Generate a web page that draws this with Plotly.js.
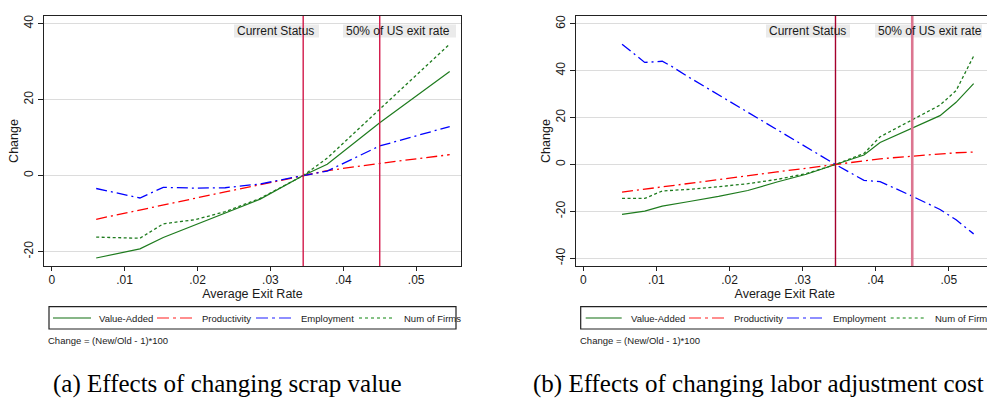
<!DOCTYPE html>
<html>
<head>
<meta charset="utf-8">
<script src="https://cdn.plot.ly/plotly-3.0.1.min.js"></script>
<style>
html,body{margin:0;padding:0;overflow:hidden;background:#fff;width:987px;height:399px;}
#chart{width:1000px;height:399px;}
</style>
</head>
<body>
<div id="chart"></div>
<script>
// ---------- DATA ----------
var seriesNames = ["Value-Added", "Productivity", "Employment", "Num of Firms"];

// Panel (a): changing scrap value
var xA = [0.0061, 0.0121, 0.0153, 0.0197, 0.0238, 0.0286, 0.0345, 0.0378, 0.0450, 0.0546];
var valueAddedA   = [-21.7, -19.3, -16.3, -13.0, -9.9, -6.2, 0.0, 3.0, 13.9, 27.4];
var productivityA = [-11.5, -9.0, -7.7, -5.9, -4.3, -2.4, 0.0, 1.3, 3.2, 5.5];
var employmentA   = [-3.4, -5.9, -3.1, -3.3, -3.2, -2.2, 0.0, 1.2, 7.8, 12.9];
var numFirmsA     = [-16.2, -16.5, -12.7, -11.6, -9.5, -6.0, 0.0, 4.6, 17.5, 34.6];

// Panel (b): changing labor adjustment cost
var xB = [0.0053, 0.0084, 0.0108, 0.0121, 0.0145, 0.0185, 0.0225, 0.0265, 0.0305, 0.0345, 0.0384, 0.0406, 0.0449, 0.0488, 0.0510, 0.0534];
var valueAddedB   = [-21.3, -19.9, -17.8, -17.2, -15.8, -13.6, -11.1, -7.5, -4.2, 0.0, 4.0, 9.4, 15.4, 20.8, 26.5, 34.5];
var productivityB = [-11.8, -10.5, -9.5, -9.0, -8.0, -6.5, -4.8, -3.2, -1.6, 0.0, 1.7, 2.4, 3.5, 4.5, 5.0, 5.3];
var employmentB   = [51.3, 43.5, 44.0, 41.8, 37.1, 29.7, 22.3, 14.9, 7.4, 0.0, -6.8, -7.3, -13.4, -19.2, -23.6, -29.6];
var numFirmsB     = [-14.5, -14.5, -11.3, -11.1, -10.6, -9.5, -8.2, -6.4, -3.9, 0.0, 4.7, 11.8, 18.9, 25.3, 31.5, 46.2];

var refLineX = [0.0345, 0.045];
var refLabels = ["Current Status", "50% of US exit rate"];
var xTickVals = [0, 0.01, 0.02, 0.03, 0.04, 0.05];
var xTickText = ["0", ".01", ".02", ".03", ".04", ".05"];
var yTickValsA = [-20, 0, 20, 40];
var yTickValsB = [-40, -20, 0, 20, 40, 60];
var captions = ["(a) Effects of changing scrap value", "(b) Effects of changing labor adjustment cost"];
var noteText = "Change = (New/Old - 1)*100";
var axisTitleX = "Average Exit Rate";
var axisTitleY = "Change";

// ---------- STYLE ----------
var W = 1000, H = 399;
function px(x){ return x / W; }
function py(y){ return (H - y) / H; }
var FONT = "Liberation Sans, Arial, Helvetica, sans-serif";
var GREEN = "#1e7b1e", RED = "#ff0000", BLUE = "#0000ff";
var styles = [
  {color: GREEN, dash: "solid", width: 1.2},
  {color: RED, dash: "11px,4px,2px,4px", width: 1.3},
  {color: BLUE, dash: "11px,4px,2px,4px", width: 1.3},
  {color: GREEN, dash: "3px,2.5px", width: 1.3}
];
var legendStyles = [
  {color: "#5f9e5f", dash: "solid"},
  {color: "#ff6a6a", dash: "12px,4px,3px,4px"},
  {color: "#6a6aff", dash: "12px,4px,3px,4px"},
  {color: "#5fae5f", dash: "3px,3px"}
];

var panelA = [valueAddedA, productivityA, employmentA, numFirmsA];
var panelB = [valueAddedB, productivityB, employmentB, numFirmsB];

var traces = [];
panelA.forEach(function(ys, i){
  traces.push({x: xA, y: ys, type: "scatter", mode: "lines", name: seriesNames[i],
    xaxis: "x", yaxis: "y", showlegend: false, hoverinfo: "skip",
    line: {color: styles[i].color, dash: styles[i].dash, width: styles[i].width}});
});
panelB.forEach(function(ys, i){
  traces.push({x: xB, y: ys, type: "scatter", mode: "lines", name: seriesNames[i],
    xaxis: "x2", yaxis: "y2", showlegend: false, hoverinfo: "skip",
    line: {color: styles[i].color, dash: styles[i].dash, width: styles[i].width}});
});

function xaxisDef(domain, range){
  return {domain: domain, range: range, tickvals: xTickVals, ticktext: xTickText,
    showgrid: false, zeroline: false, showline: true, mirror: true, linecolor: "#222", linewidth: 1.4,
    ticks: "outside", ticklen: 4, tickwidth: 1.2, tickcolor: "#222", ticklabelstandoff: -2,
    tickfont: {family: FONT, size: 12, color: "#1a1a1a"},
    title: {text: axisTitleX, font: {family: FONT, size: 12.5, color: "#1a1a1a"}, standoff: 0},
    fixedrange: true};
}
function yaxisDef(domain, range, tv, anchor){
  return {domain: domain, range: range, tickvals: tv, ticktext: tv.map(String), anchor: anchor,
    showgrid: true, gridcolor: "#dcdcdc", gridwidth: 1.3, zeroline: false,
    showline: true, mirror: true, linecolor: "#222", linewidth: 1.4,
    ticks: "outside", ticklen: 5, tickwidth: 1.2, tickcolor: "#222", tickangle: -90,
    tickfont: {family: FONT, size: 12, color: "#1a1a1a"},
    title: {text: axisTitleY, font: {family: FONT, size: 12.5, color: "#1a1a1a"}, standoff: 0},
    fixedrange: true};
}

var yDom = [py(266), py(16)];
var layout = {
  width: W, height: H,
  margin: {l: 0, r: 0, t: 0, b: 0},
  paper_bgcolor: "#ffffff", plot_bgcolor: "rgba(0,0,0,0)",
  showlegend: false,
  xaxis: xaxisDef([px(44), px(461)], [-0.00106, 0.05615]),
  yaxis: yaxisDef(yDom, [-23.8, 42.0], yTickValsA, "x"),
  xaxis2: Object.assign(xaxisDef([px(576), px(993.6)], [-0.0010, 0.05613]), {anchor: "y2"}),
  yaxis2: yaxisDef(yDom, [-43.3, 63.3], yTickValsB, "x2"),
  shapes: [], annotations: []
};
layout.xaxis.anchor = "y";

// Reference label boxes (gray background), pixel positions
var boxSpecs = [
  {x0: 234, x1: 319, textX: 234.5, label: 0},
  {x0: 343, x1: 456, textX: 344, label: 1},
  {x0: 766, x1: 850, textX: 766.5, label: 0},
  {x0: 875, x1: 982, textX: 875.5, label: 1}
];
boxSpecs.forEach(function(b){
  layout.shapes.push({type: "rect", xref: "paper", yref: "paper", layer: "below",
    x0: px(b.x0), x1: px(b.x1), y0: py(37.5), y1: py(24.5),
    fillcolor: "#ebebeb", line: {width: 0}});
  layout.annotations.push({xref: "paper", yref: "paper", x: px(b.textX), y: py(31),
    xanchor: "left", yanchor: "middle", showarrow: false, text: refLabels[b.label],
    font: {family: FONT, size: 12, color: "#1a1a1a"}});
});

// Reference vertical lines
var refColorsA = ["#d2194a", "#d2194a"];
var refColorsB = ["#a5002c", "#dc7590"];
var refWidthsB = [1.4, 2.6];
refLineX.forEach(function(v, i){
  layout.shapes.push({type: "line", xref: "x", yref: "y domain", x0: v, x1: v, y0: 0, y1: 1,
    layer: "above", line: {color: refColorsA[i], width: 1.4}});
  layout.shapes.push({type: "line", xref: "x2", yref: "y2 domain", x0: v, x1: v, y0: 0, y1: 1,
    layer: "above", line: {color: refColorsB[i], width: refWidthsB[i]}});
});

// Legends (Stata style) for both panels
var legendPanels = [
  {box: [49, 456], samples: [[53, 91], [157, 193], [256, 293], [359, 394]], texts: [97, 200, 299, 402], note: 45.7, cap: 50.7},
  {box: [580.7, 987.7], samples: [[585.7, 621.7], [689, 725.7], [787, 825], [890.7, 926.7]], texts: [628.5, 731.7, 831, 933], note: 577.7, cap: 530.7}
];
legendPanels.forEach(function(lp, pi){
  layout.shapes.push({type: "rect", xref: "paper", yref: "paper", layer: "above",
    x0: px(lp.box[0]), x1: px(lp.box[1]), y0: py(329), y1: py(306.7),
    fillcolor: "rgba(0,0,0,0)", line: {color: "#222", width: 1.2}});
  seriesNames.forEach(function(n, i){
    layout.shapes.push({type: "line", xref: "paper", yref: "paper", layer: "above",
      x0: px(lp.samples[i][0]), x1: px(lp.samples[i][1]), y0: py(318), y1: py(318),
      line: {color: legendStyles[i].color, dash: legendStyles[i].dash, width: 1.6}});
    layout.annotations.push({xref: "paper", yref: "paper", x: px(lp.texts[i]), y: py(318),
      xanchor: "left", yanchor: "middle", showarrow: false, text: n,
      font: {family: FONT, size: 9.5, color: "#1a1a1a"}});
  });
  layout.annotations.push({xref: "paper", yref: "paper", x: px(lp.note), y: py(340.7),
    xanchor: "left", yanchor: "middle", showarrow: false, text: noteText,
    font: {family: FONT, size: 9.5, color: "#1a1a1a"}});
  layout.annotations.push({xref: "paper", yref: "paper", x: px(lp.cap), y: py(384),
    xanchor: "left", yanchor: "middle", showarrow: false, text: captions[pi],
    font: {family: "Liberation Serif, Times New Roman, serif", size: 25, color: "#000"}});
});

Plotly.newPlot("chart", traces, layout, {staticPlot: true, displayModeBar: false});
</script>
</body>
</html>
